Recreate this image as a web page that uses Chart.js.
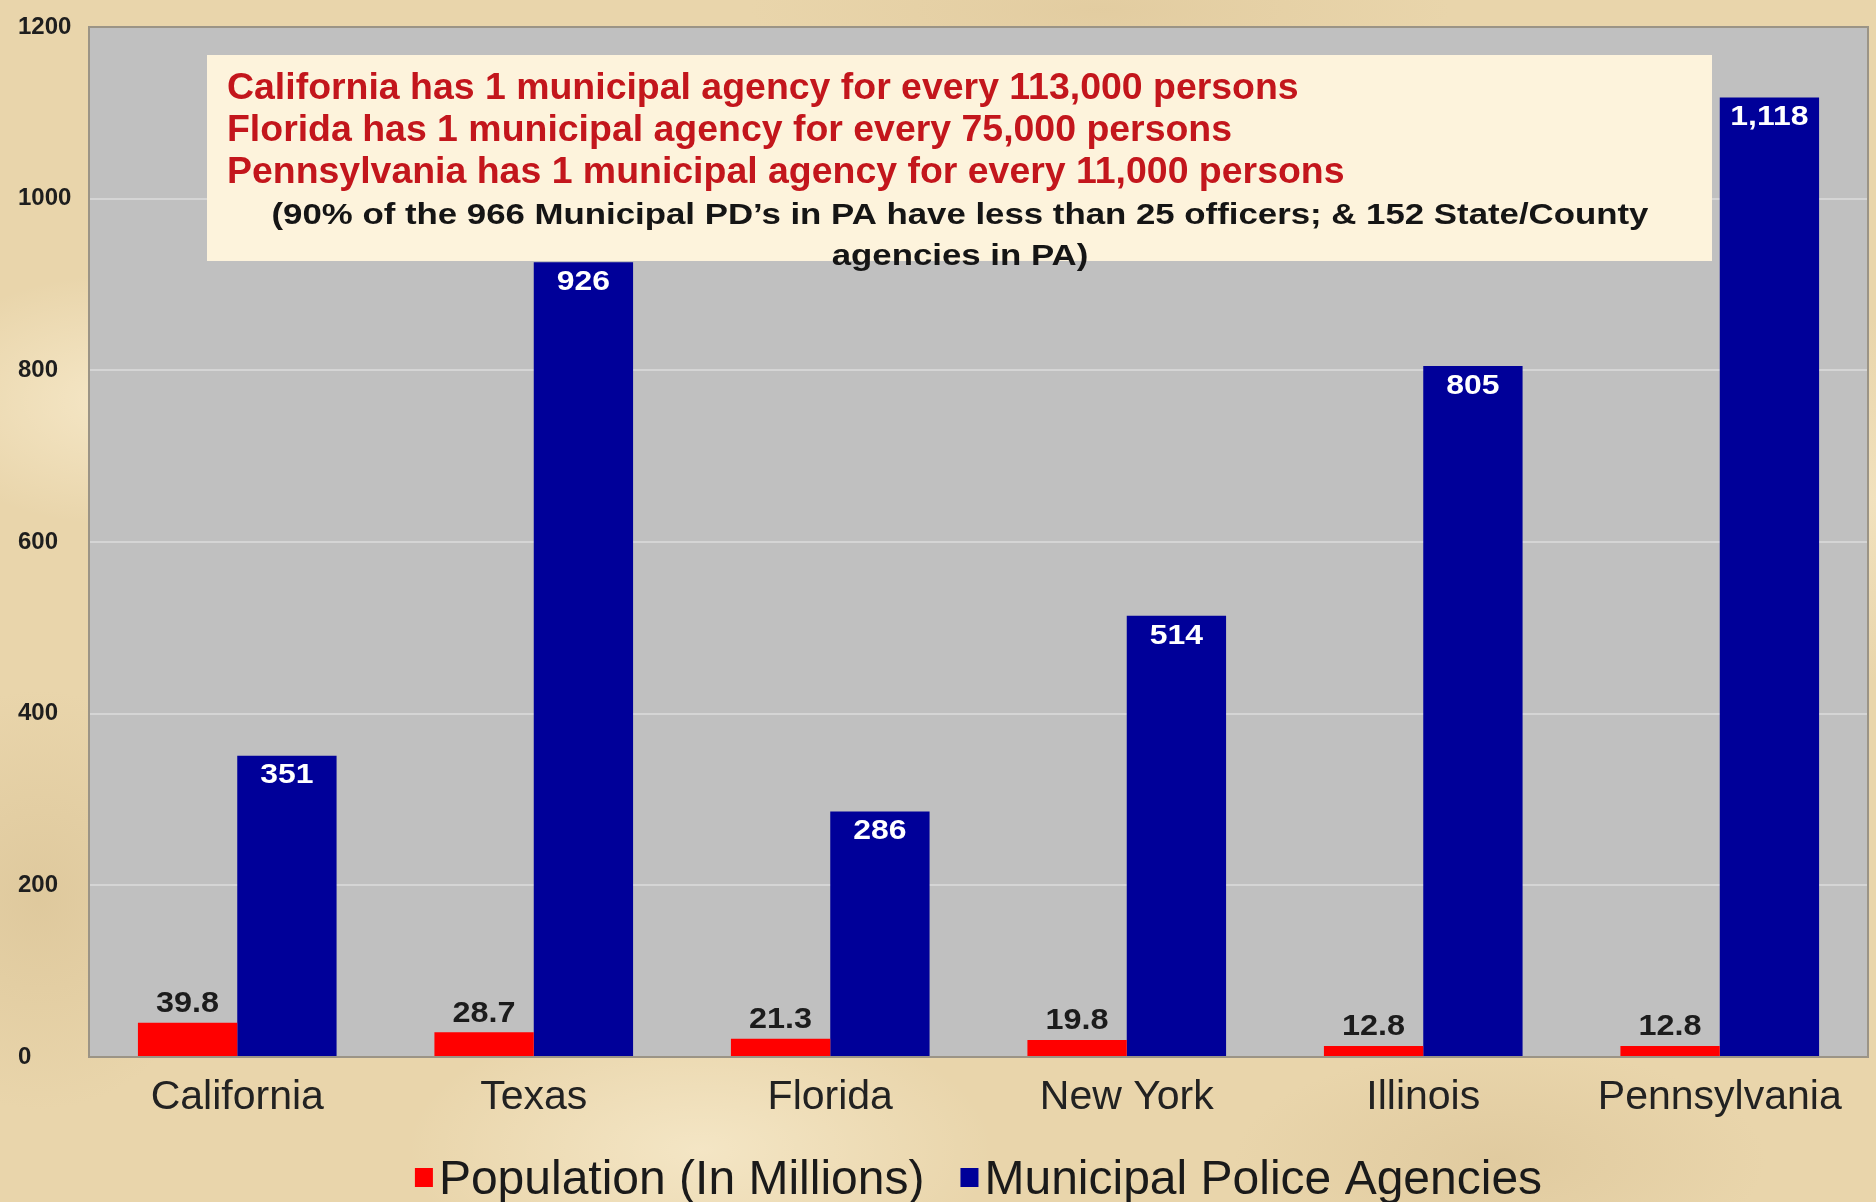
<!DOCTYPE html>
<html>
<head>
<meta charset="utf-8">
<title>Municipal Police Agencies by State</title>
<script src="https://cdn.jsdelivr.net/npm/chart.js@4.4.1/dist/chart.umd.min.js"></script>
<style>
  html, body { margin: 0; padding: 0; }
  body {
    width: 1876px; height: 1202px; overflow: hidden;
    background-color: #e9d5ab;
    background-image:
      radial-gradient(ellipse 300px 180px at 120px 400px, rgba(255,245,220,0.55), rgba(255,245,220,0) 70%),
      radial-gradient(ellipse 420px 200px at 700px 1150px, rgba(255,246,222,0.5), rgba(255,246,222,0) 70%),
      radial-gradient(ellipse 380px 160px at 1500px 1160px, rgba(214,190,145,0.45), rgba(214,190,145,0) 70%),
      radial-gradient(ellipse 260px 300px at 40px 900px, rgba(210,186,140,0.45), rgba(210,186,140,0) 70%),
      radial-gradient(ellipse 500px 120px at 1100px 10px, rgba(220,196,150,0.5), rgba(220,196,150,0) 70%),
      radial-gradient(ellipse 200px 260px at 1876px 500px, rgba(250,238,208,0.5), rgba(250,238,208,0) 70%);
  }
  #wrap { position: absolute; left: 0; top: 0; width: 1876px; height: 1202px; }
</style>
</head>
<body>
<div id="wrap"><canvas id="chart" width="1876" height="1202"></canvas></div>
<script>
// ---- data ----
const states = ['California', 'Texas', 'Florida', 'New York', 'Illinois', 'Pennsylvania'];
const population = [39.8, 28.7, 21.3, 19.8, 12.8, 12.8];      // millions
const agencies   = [351, 926, 286, 514, 805, 1118];
const yTicks     = [0, 200, 400, 600, 800, 1000, 1200];
const seriesNames = ['Population (In Millions)', 'Municipal Police Agencies'];

const noteRed = [
  'California has 1 municipal agency for every 113,000 persons',
  'Florida has 1 municipal agency for every 75,000 persons',
  'Pennsylvania has 1 municipal agency for every 11,000 persons'
];
const noteBlack = [
  '(90% of the 966 Municipal PD\u2019s in PA have less than 25 officers; & 152 State/County',
  'agencies in PA)'
];

const FONT = '"Liberation Sans", Arial, sans-serif';
const RED = '#ff0000';
const BLUE = '#000099';

// text drawn a little wider than its height, like the original slide
function wideText(ctx, text, x, y, sx) {
  ctx.save();
  ctx.translate(x, y);
  ctx.scale(sx, 1);
  ctx.fillText(text, 0, 0);
  ctx.restore();
}

// grey plot background + frame
const plotBg = {
  id: 'plotBg',
  beforeDraw(chart) {
    const { ctx, chartArea: a } = chart;
    ctx.save();
    ctx.fillStyle = '#c0c0c0';
    ctx.fillRect(a.left, a.top, a.right - a.left, a.bottom - a.top);
    ctx.restore();
  },
  afterDatasetsDraw(chart) {
    const { ctx, chartArea: a } = chart;
    ctx.save();
    ctx.strokeStyle = '#9b9486';
    ctx.lineWidth = 2;
    ctx.strokeRect(a.left, a.top, a.right - a.left, a.bottom - a.top);
    ctx.restore();
  }
};

// note box and value labels
const notes = {
  id: 'notes',
  afterDatasetsDraw(chart) {
    const { ctx } = chart;
    ctx.save();
    // note box
    ctx.fillStyle = '#fdf3dc';
    ctx.fillRect(207, 55, 1505, 206);
    ctx.textBaseline = 'alphabetic';
    ctx.textAlign = 'left';
    ctx.fillStyle = '#c3161c';
    ctx.font = 'bold 36px ' + FONT;
    noteRed.forEach((t, i) => wideText(ctx, t, 227, 99 + i * 42, 1.04));
    ctx.textAlign = 'center';
    ctx.fillStyle = '#151515';
    ctx.font = 'bold 30px ' + FONT;
    noteBlack.forEach((t, i) => wideText(ctx, t, 960, 224 + i * 41, 1.16));

    // value labels
    const popMeta = chart.getDatasetMeta(0);
    const agMeta = chart.getDatasetMeta(1);
    ctx.textAlign = 'center';
    ctx.font = 'bold 30px ' + FONT;
    ctx.fillStyle = '#1c1c1c';
    ctx.textBaseline = 'bottom';
    popMeta.data.forEach((bar, i) => {
      wideText(ctx, population[i].toFixed(1), bar.x, bar.y - 4, 1.08);
    });
    ctx.font = 'bold 28px ' + FONT;
    ctx.fillStyle = '#ffffff';
    ctx.textBaseline = 'top';
    agMeta.data.forEach((bar, i) => {
      wideText(ctx, agencies[i].toLocaleString('en-US'), bar.x, bar.y + 6, 1.14);
    });
    ctx.restore();
  }
};

// bottom legend with small square markers
const bottomLegend = {
  id: 'bottomLegend',
  afterDraw(chart) {
    const { ctx, chartArea: a } = chart;
    ctx.save();
    ctx.font = '48px ' + FONT;
    const box = 18, gapIn = 6, gapOut = 36;
    const items = chart.data.datasets.map(ds => ({
      label: ds.label, color: ds.backgroundColor,
      w: box + gapIn + ctx.measureText(ds.label).width
    }));
    const total = items.reduce((s, it) => s + it.w, 0) + gapOut * (items.length - 1);
    let x = (a.left + a.right) / 2 - total / 2;
    ctx.textBaseline = 'alphabetic';
    ctx.textAlign = 'left';
    items.forEach(it => {
      ctx.fillStyle = it.color;
      ctx.fillRect(x, 1168, box, 19);
      ctx.fillStyle = '#1a1a1a';
      ctx.fillText(it.label, x + box + gapIn, 1194);
      x += it.w + gapOut;
    });
    ctx.restore();
  }
};

new Chart(document.getElementById('chart'), {
  type: 'bar',
  data: {
    labels: states,
    datasets: [
      { label: seriesNames[0], data: population, backgroundColor: RED },
      { label: seriesNames[1], data: agencies, backgroundColor: BLUE }
    ]
  },
  options: {
    responsive: false,
    devicePixelRatio: 1,
    animation: false,
    layout: { padding: { left: 18, top: 27, right: 8, bottom: 0 } },
    datasets: { bar: { categoryPercentage: 0.67, barPercentage: 1.0, borderWidth: 0 } },
    plugins: { legend: { display: false }, tooltip: { enabled: false } },
    scales: {
      x: {
        grid: { display: false, drawTicks: false },
        border: { display: false },
        ticks: { color: '#222', font: { family: FONT, size: 41 }, padding: 16 },
        afterFit(s) { s.height = 145; }
      },
      y: {
        min: 0, max: 1200,
        afterBuildTicks(s) { s.ticks = yTicks.map(v => ({ value: v })); },
        grid: {
          drawTicks: false,
          lineWidth: 2,
          color: ctx => (ctx.tick && (ctx.tick.value === 0 || ctx.tick.value === 1200)) ? 'rgba(0,0,0,0)' : '#d5d5d5'
        },
        border: { display: false },
        ticks: {
          crossAlign: 'far',
          color: '#1e1e1e',
          font: { family: FONT, size: 24, weight: 'bold' },
          callback: v => String(v)
        },
        afterFit(s) { s.width = 71; }
      }
    }
  },
  plugins: [plotBg, notes, bottomLegend]
});
</script>
</body>
</html>
